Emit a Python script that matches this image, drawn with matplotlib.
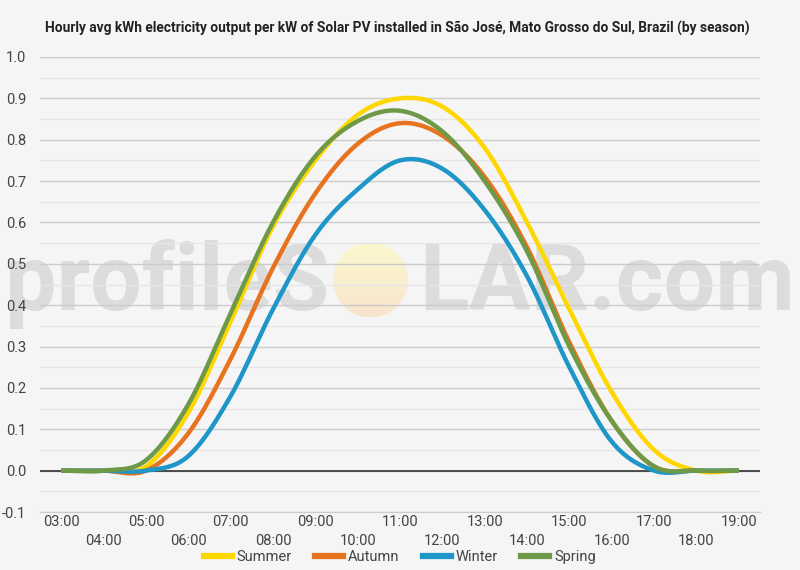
import numpy as np
import matplotlib
matplotlib.use("Agg")
import matplotlib.pyplot as plt
from matplotlib.patches import Circle
from matplotlib.lines import Line2D
from matplotlib.colors import LinearSegmentedColormap

hours = ["03:00", "04:00", "05:00", "06:00", "07:00", "08:00", "09:00", "10:00", "11:00",
         "12:00", "13:00", "14:00", "15:00", "16:00", "17:00", "18:00", "19:00"]
summer = [0.0, 0.0, 0.01, 0.14, 0.36, 0.59, 0.75, 0.86, 0.90, 0.88, 0.78, 0.60, 0.39, 0.19, 0.05, 0.0, 0.0]
autumn = [0.0, 0.0, 0.0, 0.09, 0.27, 0.49, 0.67, 0.79, 0.84, 0.81, 0.71, 0.54, 0.31, 0.12, 0.01, 0.0, 0.0]
winter = [0.0, 0.0, 0.0, 0.035, 0.18, 0.39, 0.57, 0.68, 0.75, 0.73, 0.63, 0.47, 0.25, 0.07, 0.0, 0.0, 0.0]
spring = [0.0, 0.0, 0.025, 0.16, 0.38, 0.60, 0.76, 0.845, 0.87, 0.82, 0.70, 0.53, 0.30, 0.12, 0.01, 0.0, 0.0]
series_names = ["Summer", "Autumn", "Winter", "Spring"]
colors = ["#FFD700", "#E8731F", "#1E96C8", "#6E9A48"]
title = "Hourly avg kWh electricity output per kW of Solar PV installed in São José, Mato Grosso do Sul, Brazil (by season)"

def smooth(y, n=20):
    y = np.asarray(y, float)
    x = np.arange(len(y), dtype=float)
    m = np.zeros_like(y)
    m[1:-1] = (y[2:] - y[:-2]) / 2.0
    m[0] = y[1] - y[0]
    m[-1] = y[-1] - y[-2]
    xs, ys = [], []
    for i in range(len(y) - 1):
        t = np.linspace(0, 1, n, endpoint=False)
        h00 = 2*t**3 - 3*t**2 + 1
        h10 = t**3 - 2*t**2 + t
        h01 = -2*t**3 + 3*t**2
        h11 = t**3 - t**2
        xs.append(x[i] + t)
        ys.append(h00*y[i] + h10*m[i] + h01*y[i+1] + h11*m[i+1])
    xs.append([x[-1]]); ys.append([y[-1]])
    return np.concatenate(xs), np.concatenate(ys)

BG = "#f5f5f5"
fig = plt.figure(figsize=(8, 5.7), dpi=100, facecolor=BG)
W, H = 800, 570

# watermark
fig.text(5/W, 1 - 310/H, "profileS", fontsize=66, fontweight="bold", family="Roboto",
         color="#dcdcdc", ha="left", va="baseline", zorder=-2)
fig.text(795/W, 1 - 310/H, "LAR.com", fontsize=66, fontweight="bold", family="Roboto",
         color="#dcdcdc", ha="right", va="baseline", zorder=-2)
cx, cy, r = 370.5, 280, 37.5
wax = fig.add_axes([(cx - r)/W, 1 - (cy + r)/H, 2*r/W, 2*r/H], zorder=-1)
wax.axis("off")
grad = np.linspace(0, 1, 100)[:, None]
cmap = LinearSegmentedColormap.from_list("sun", ["#fbf7cc", "#f9efcf", "#f8e3cc"])
im = wax.imshow(grad, cmap=cmap, extent=[-1, 1, -1, 1], aspect="auto", origin="upper")
circ = Circle((0, 0), 1, transform=wax.transData)
im.set_clip_path(circ)
wax.set_xlim(-1, 1); wax.set_ylim(-1, 1)

ax = fig.add_axes([40/W, 1 - 512/H, 720/W, (512 - 57)/H])
ax.set_facecolor("none")
for name, vals, c in zip(series_names, [summer, autumn, winter, spring], colors):
    xs, ys = smooth(vals)
    ax.plot(xs, ys, color=c, lw=3.2, solid_capstyle="butt", zorder=3, label=name)

ax.set_xlim(-0.5, len(hours) - 0.5)
ax.set_ylim(-0.1, 1.0)
yt = np.round(np.arange(-0.1, 1.01, 0.1), 1)
ax.set_yticks(yt)
ax.set_yticklabels([f"{v:.1f}" for v in yt], fontsize=10.5, color="#444444", family="Roboto")
ax.set_yticks(np.round(np.arange(-0.05, 1.0, 0.1), 2), minor=True)
ax.grid(axis="y", which="major", color="#cccccc", lw=1, zorder=1)
ax.grid(axis="y", which="minor", color="#e6e6e6", lw=1, zorder=1)
ax.axhline(0, color="#333333", lw=1.2, zorder=2)
ax.tick_params(axis="y", which="both", length=0, pad=10)
ax.set_xticks(range(len(hours)))
ax.set_xticklabels([])
ax.tick_params(axis="x", length=0)
for i, lab in enumerate(hours):
    yoff = 522 if i % 2 == 0 else 541
    ax.text(i, 1 - (yoff - 57)/(512 - 57), lab, transform=ax.get_xaxis_transform(),
            fontsize=10.5, color="#444444", family="Roboto", ha="center", va="center")
for s in ["left", "right", "top"]:
    ax.spines[s].set_visible(False)
ax.spines["bottom"].set_color("#cccccc")

fig.text(397/W, 1 - 28/H, title, fontsize=9.9, fontweight="bold", family="Roboto",
         color="#222222", ha="center", va="center")

handles = [Line2D([0], [0], color=c, lw=4.5) for c in colors]
fig.legend(handles, series_names, loc="center", bbox_to_anchor=(400/W, 1 - 557/H), ncol=4,
           frameon=False, handlelength=1.9, handletextpad=0.35, columnspacing=1.6,
           prop={"family": "Roboto", "size": 10.5}, labelcolor="#444444")

fig.savefig("out.png", dpi=100, facecolor=BG)
